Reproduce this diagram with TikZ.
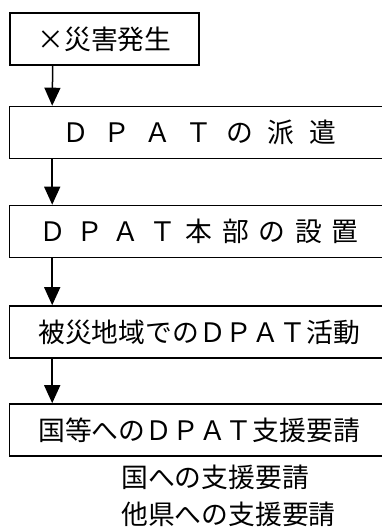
\documentclass[tikz,border=0pt]{standalone}
\usepackage{fontspec}
\setmainfont{Noto Sans CJK JP}
\usetikzlibrary{arrows.meta}
\begin{document}
\begin{tikzpicture}[x=1pt,y=-1pt,
  stepbox/.style={draw=black,line width=1.6pt,minimum height=52pt,inner sep=0pt,
    font=\fontsize{26.8pt}{32pt}\selectfont},
  widebox/.style={stepbox,minimum width=379pt},
  note/.style={anchor=base west,inner sep=0pt,font=\fontsize{26.8pt}{32pt}\selectfont},
  arr/.style={line width=1.5pt,-{Triangle[width=16pt,length=18pt]}}]
\useasboundingbox (0,0) rectangle (382,527);
\node[stepbox,minimum width=189pt] (b1) at (104.5,39) {×災害発生};
\node[widebox] (b2) at (199,132.5) {Ｄ\hspace{14.4pt}Ｐ\hspace{14.4pt}Ａ\hspace{14.4pt}Ｔ\hspace{14.4pt}の\hspace{14.4pt}派\hspace{14.4pt}遣};
\node[widebox] (b3) at (199,231.5) {Ｄ\hspace{9.7pt}Ｐ\hspace{9.7pt}Ａ\hspace{9.7pt}Ｔ\hspace{9.7pt}本\hspace{9.7pt}部\hspace{9.7pt}の\hspace{9.7pt}設\hspace{9.7pt}置};
\node[widebox] (b4) at (199,332) {被災地域でのＤＰＡＴ活動};
\node[widebox] (b5) at (199,430) {国等へのＤＰＡＴ支援要請};
\node[note] (t1) at (121,487) {国への支援要請};
\node[note] (t2) at (121,524) {他県への支援要請};
\draw[arr] ([xshift=43.5pt]b1.south west) -- ([xshift=43.5pt]b2.north west);
\draw[arr] ([xshift=43.5pt]b2.south west) -- ([xshift=43.5pt]b3.north west);
\draw[arr] ([xshift=43.5pt]b3.south west) -- ([xshift=43.5pt]b4.north west);
\draw[arr] ([xshift=43.5pt]b4.south west) -- ([xshift=43.5pt]b5.north west);
\end{tikzpicture}
\end{document}
